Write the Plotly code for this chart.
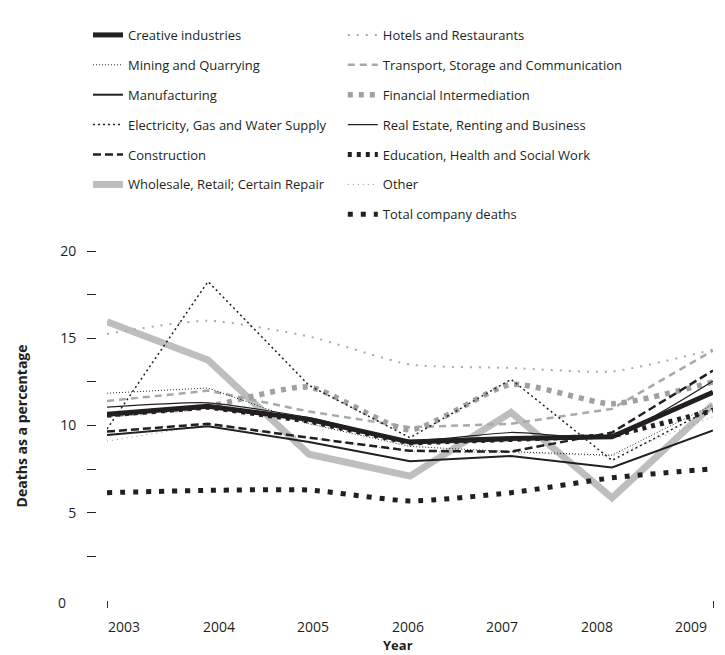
import plotly.graph_objects as go

# data (deaths as a percentage of companies)
years = [2003, 2004, 2005, 2006, 2007, 2008, 2009]

creative = [10.65, 11.1, 10.35, 9.05, 9.25, 9.35, 11.9]
mining = [11.85, 12.15, 10.1, 8.8, 8.5, 8.3, 11.2]
manufacturing = [9.45, 9.95, 9.05, 7.95, 8.25, 7.6, 9.72]
electricity = [9.8, 18.25, 12.3, 9.3, 12.65, 8.0, 11.0]
construction = [9.65, 10.1, 9.3, 8.55, 8.5, 9.6, 13.15]
wholesale = [15.95, 13.75, 8.35, 7.1, 10.75, 5.85, 11.2]
hotels = [15.25, 16.0, 15.1, 13.5, 13.3, 13.1, 14.35]
transport = [11.4, 12.0, 10.8, 9.9, 10.1, 10.95, 14.3]
financial = [10.6, 11.1, 12.2, 9.75, 12.35, 11.25, 12.5]
real_estate = [11.05, 11.3, 10.45, 9.15, 9.6, 9.4, 12.55]
education = [10.6, 11.05, 10.25, 9.0, 9.2, 9.4, 10.85]
other = [9.1, 10.05, 9.3, 8.5, 8.45, 8.25, 10.5]
total = [6.15, 6.28, 6.3, 5.68, 6.15, 7.0, 7.52]

y_ticks = [2.5, 5, 7.5, 10, 12.5, 15, 17.5, 20]
y_ticktext = ["", "5", "", "10", "", "15", "", "20"]

BLACK = "#231F20"
GREY = "#A7A9AC"
LIGHT = "#BCBEC0"
FONT = "Open Sans, sans-serif"

# (name, values, colour, width, dash, shape, legend, zorder)
SERIES = [
    ("Creative industries", creative, BLACK, 5, "solid", "linear", "legend", 2),
    ("Mining and Quarrying", mining, BLACK, 1, "1px,2px", "linear", "legend", 1),
    ("Manufacturing", manufacturing, BLACK, 2, "solid", "linear", "legend", 1),
    ("Electricity, Gas and Water Supply", electricity, BLACK, 1.5, "2px,3px", "linear", "legend", 1),
    ("Construction", construction, BLACK, 2.5, "8px,4px", "linear", "legend", 1),
    ("Wholesale, Retail; Certain Repair", wholesale, LIGHT, 7, "solid", "linear", "legend", -1),
    ("Hotels and Restaurants", hotels, GREY, 2, "2px,7px", "spline", "legend2", 0),
    ("Transport, Storage and Communication", transport, GREY, 2.5, "7px,5px", "linear", "legend2", 0),
    ("Financial Intermediation", financial, "#A0A0A0", 5.5, "5px,6px", "spline", "legend2", 0),
    ("Real Estate, Renting and Business", real_estate, BLACK, 1.2, "solid", "spline", "legend2", 1),
    ("Education, Health and Social Work", education, BLACK, 5, "4px,5px", "linear", "legend2", 2),
    ("Other", other, "#8A8C8E", 1, "1px,4px", "linear", "legend2", 0),
    ("Total company deaths", total, BLACK, 5, "5px,8px", "spline", "legend2", 1),
]

fig = go.Figure()
for i, (name, vals, color, width, dash, shape, leg, z) in enumerate(SERIES):
    fig.add_trace(go.Scatter(
        x=years, y=vals, mode="lines", name=name,
        line=dict(color=color, width=width, dash=dash, shape=shape, smoothing=0.6),
        legend=leg, legendgroup=name, legendrank=i, zorder=z,
    ))

legend_style = dict(
    yanchor="top", xanchor="left", bgcolor="rgba(0,0,0,0)",
    font=dict(family=FONT, size=13, color=BLACK),
    tracegroupgap=10, traceorder="grouped", itemwidth=30,
)

# year labels are spread so the first/last sit inside the axis ends
annotations = []
for i, yr in enumerate(years):
    annotations.append(dict(
        x=yr, y=0, xref="x", yref="paper", text=str(yr), showarrow=False,
        xshift=17 - 6.5 * i, yshift=-26, yanchor="middle",
        font=dict(family=FONT, size=14, color=BLACK),
    ))
annotations += [
    dict(x=-0.045, y=0, xref="paper", yref="paper", text="0", showarrow=False,
         xanchor="right", yanchor="middle", yshift=-2,
         font=dict(family=FONT, size=14, color=BLACK)),
    dict(x=0.5, y=0, xref="paper", yref="paper", text="<b>Year</b>", showarrow=False,
         yanchor="middle", yshift=-45, xshift=-7,
         font=dict(family=FONT, size=13, color=BLACK)),
    dict(x=-0.12, y=0.5, xref="paper", yref="paper", text="<b>Deaths as a percentage</b>",
         showarrow=False, textangle=-90, xanchor="center", yanchor="middle",
         font=dict(family=FONT, size=14, color=BLACK)),
]

fig.update_layout(
    width=725, height=655,
    margin=dict(l=88, r=20, t=228, b=63),
    paper_bgcolor="white", plot_bgcolor="white",
    font=dict(family=FONT, size=13, color=BLACK),
    legend=dict(x=-0.013, y=1.662, **legend_style),
    legend2=dict(x=0.4, y=1.662, **legend_style),
    annotations=annotations,
    xaxis=dict(
        range=[2003, 2009], domain=[11 / 617, 1],
        showgrid=False, zeroline=False, showline=True, linecolor="#333333", linewidth=1.2,
        tickvals=[years[0], years[-1]], ticks="outside", ticklen=7, tickwidth=1.2,
        tickcolor="#333333", showticklabels=False,
    ),
    yaxis=dict(
        range=[0, 20], anchor="free", position=0,
        showgrid=False, zeroline=False, showline=False,
        tickvals=y_ticks, ticktext=y_ticktext, ticks="outside", ticklen=9,
        tickwidth=1.2, tickcolor=BLACK, ticklabelstandoff=8,
        tickfont=dict(family=FONT, size=14, color=BLACK),
    ),
)

fig.write_html("out.html")
